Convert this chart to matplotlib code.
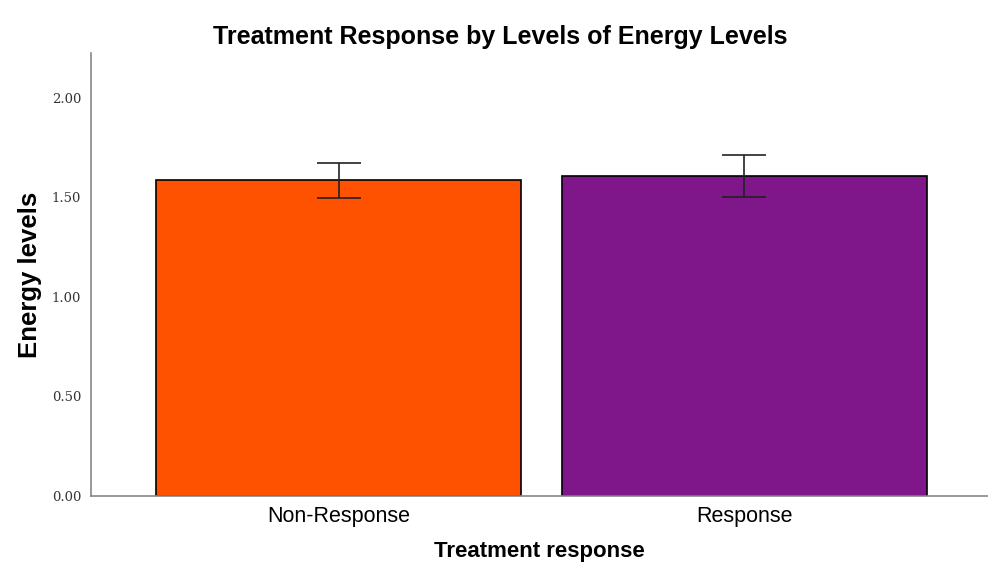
import matplotlib
matplotlib.use("Agg")
import matplotlib.pyplot as plt

# Data
groups = ["Non-Response", "Response"]
means = [1.585, 1.608]
ci_low = [1.497, 1.502]
ci_high = [1.673, 1.710]
colors = ["#FF5200", "#7F168A"]

fig = plt.figure(figsize=(9.88, 5.67), dpi=100)
ax = fig.add_axes([0.092, 0.125, 0.908, 0.782])

x = list(range(len(groups)))
ax.bar(x, means, width=0.9, color=colors, edgecolor="black", linewidth=1.2, zorder=2)

# Error bars
yerr = [[m - lo for m, lo in zip(means, ci_low)], [hi - m for m, hi in zip(means, ci_high)]]
ax.errorbar(x, means, yerr=yerr, fmt="none", ecolor="#222222", elinewidth=1.2,
            capsize=16, capthick=1.2, zorder=3)

ax.set_xlim(-0.61, 1.6)
ax.set_ylim(0, 2.225)
ax.set_yticks([0, 0.5, 1.0, 1.5, 2.0])
ax.set_yticklabels([f"{v:.2f}" for v in [0, 0.5, 1.0, 1.5, 2.0]],
                   family="DejaVu Serif", fontsize=9.5, color="#333333")
ax.set_xticks(x)
ax.set_xticklabels(groups, family="Liberation Sans", fontsize=15.5)
ax.tick_params(axis="both", length=0)
ax.tick_params(axis="y", pad=7)
ax.tick_params(axis="x", pad=7)

for s in ["top", "right"]:
    ax.spines[s].set_visible(False)
for s in ["left", "bottom"]:
    ax.spines[s].set_color("#888888")
    ax.spines[s].set_linewidth(1.2)

fig.text(0.506, 0.935, "Treatment Response by Levels of Energy Levels", family="Liberation Sans",
         fontsize=18, fontweight="bold", ha="center", va="center")
ax.set_ylabel("Energy levels", family="Liberation Sans", fontsize=18.5, fontweight="bold")
ax.yaxis.set_label_coords(-0.054, 0.5)
ax.set_xlabel("Treatment response", family="Liberation Sans", fontsize=16, fontweight="bold", va="center")
ax.xaxis.set_label_coords(0.5, -0.126)

fig.savefig("out.png", dpi=100)
